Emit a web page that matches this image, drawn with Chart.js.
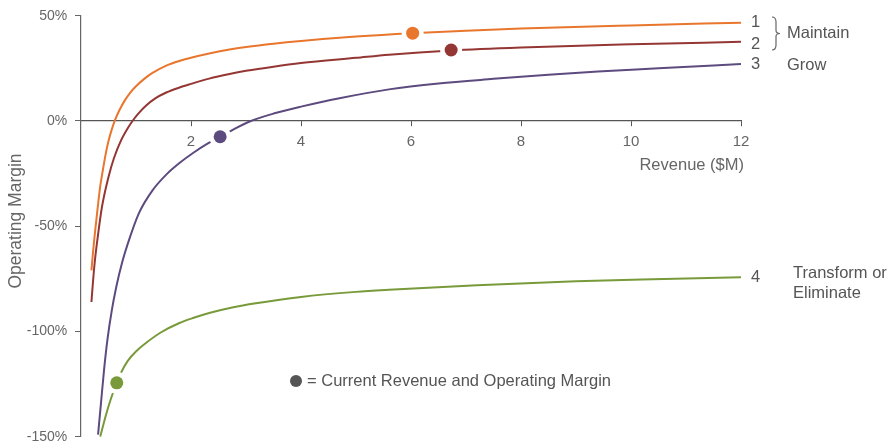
<!DOCTYPE html>
<html>
<head>
<meta charset="utf-8">
<script src="https://cdn.jsdelivr.net/npm/chart.js@4.4.1/dist/chart.umd.min.js"></script>
<style>
  html, body { margin: 0; padding: 0; background: #fff; }
  #wrap { width: 889px; height: 442px; }
</style>
</head>
<body>
<div id="wrap"><canvas id="graphique"></canvas></div>
<script>
// Courbes : revenu ($M) -> marge operationnelle (%)
const revenu1 = [0.19, 0.22, 0.25, 0.3, 0.35, 0.4, 0.45, 0.5, 0.56, 0.62, 0.7, 0.8, 0.9, 1.0, 1.15, 1.3, 1.55, 1.8, 2, 2.33, 2.7, 3, 3.5, 4, 5, 6, 7, 8, 10, 12];
const marge1  = [-71, -62, -54, -42, -31, -23, -15.5, -9.5, -4, 0.5, 5.2, 9.9, 13.6, 16.5, 20, 22.8, 26.3, 28.6, 30, 32, 33.9, 35.1, 36.7, 38, 40.1, 41.7, 42.9, 43.9, 45.4, 46.7];

const revenu2 = [0.19, 0.21, 0.25, 0.3, 0.38, 0.5, 0.6, 0.73, 0.83, 0.94, 1.05, 1.18, 1.35, 1.55, 1.78, 2, 2.33, 2.7, 3, 3.5, 4, 5, 5.6, 6.73, 8, 10, 12];
const marge2  = [-86, -79, -67, -56, -41, -26.6, -17.6, -9.1, -4.3, 0.1, 3.7, 7.2, 10.7, 13.5, 15.8, 17.6, 20.1, 22.3, 23.8, 25.8, 27.5, 30, 31.5, 33.5, 34.9, 36.4, 37.6];

const revenu3 = [0.31, 0.36, 0.42, 0.48, 0.56, 0.64, 0.75, 0.88, 1.05, 1.3, 1.55, 1.79, 2.05, 2.3, 2.53, 2.8, 3.09, 3.5, 4, 4.7, 5.6, 6.5, 7.5, 8.5, 9.4, 10.5, 12];
const marge3  = [-149, -135, -118, -104, -90, -79, -67, -56, -44, -33, -25.5, -20, -15, -10.8, -7.5, -3.6, 0, 3.5, 6.8, 10.8, 15, 17.8, 20, 22, 23.5, 25, 27.1];

const revenu4 = [0.35, 0.45, 0.55, 0.65, 0.73, 0.85, 1.0, 1.18, 1.45, 1.79, 2.05, 2.33, 2.75, 3.18, 4, 5, 5.6, 7.2, 9, 10.8, 12];
const marge4  = [-150, -140, -131.5, -124.4, -119.5, -114, -109.5, -105.5, -100.5, -96, -93.5, -91.2, -88.6, -86.6, -83.6, -81.2, -80.2, -78, -76.2, -75, -74.2];

// Position actuelle de chaque activite
const revenuActuel  = [6.03, 6.73, 2.53, 0.65];
const margeActuelle = [41.7, 33.7, -7.5, -124.4];

const numeros  = ['1', '2', '3', '4'];
const couleurs = ['#E8762D', '#943634', '#5D4A7E', '#789A3A'];

const POLICE = "'Liberation Sans', Arial, Helvetica, sans-serif";

function versPoints(xs, ys) {
    return xs.map((x, i) => ({ x: x, y: ys[i] }));
}

const series = [
    versPoints(revenu1, marge1),
    versPoints(revenu2, marge2),
    versPoints(revenu3, marge3),
    versPoints(revenu4, marge4)
];

const datasetsCourbes = series.map((pts, i) => ({
    label: 'Courbe ' + numeros[i],
    data: pts,
    showLine: true,
    borderColor: couleurs[i],
    borderWidth: 2,
    pointRadius: 0,
    cubicInterpolationMode: 'monotone',
    order: 3
}));

const pointsActuels = versPoints(revenuActuel, margeActuelle);

// halo blanc qui coupe la courbe autour du point
const datasetHalo = {
    label: 'halo',
    data: pointsActuels,
    pointRadius: 11,
    pointBackgroundColor: '#fff',
    pointBorderWidth: 0,
    order: 2
};

const datasetActuel = {
    label: 'actuel',
    data: pointsActuels,
    pointRadius: 6.5,
    pointBackgroundColor: couleurs,
    pointBorderWidth: 0,
    order: 1
};

// Textes hors zone : numeros, groupes, accolade, legende, titres des axes
const annotations = {
    id: 'annotations',
    afterDraw(chart) {
        const ctx = chart.ctx;
        const sx = chart.scales.x;
        const xFin = sx.getPixelForValue(12);

        ctx.save();
        ctx.fillStyle = '#555';
        ctx.textBaseline = 'middle';

        // numeros en bout de courbe
        ctx.font = '16.5px ' + POLICE;
        ctx.textAlign = 'left';
        const yLabels = [22, 44, 64, 277];
        numeros.forEach((n, i) => {
            ctx.fillText(n, xFin + 10, yLabels[i]);
        });

        // accolade 1-2
        ctx.strokeStyle = '#666';
        ctx.lineWidth = 1.2;
        ctx.beginPath();
        const bx = 772, bTop = 17, bBas = 50, bMil = (bTop + bBas) / 2;
        ctx.moveTo(bx, bTop);
        ctx.quadraticCurveTo(bx + 4, bTop, bx + 4, bTop + 5);
        ctx.lineTo(bx + 4, bMil - 3);
        ctx.quadraticCurveTo(bx + 4, bMil, bx + 8, bMil);
        ctx.quadraticCurveTo(bx + 4, bMil, bx + 4, bMil + 3);
        ctx.lineTo(bx + 4, bBas - 5);
        ctx.quadraticCurveTo(bx + 4, bBas, bx, bBas);
        ctx.stroke();

        ctx.fillText('Maintain', 787, 33);
        ctx.fillText('Grow', 787, 65);
        ctx.fillText('Transform or', 793, 273);
        ctx.fillText('Eliminate', 793, 293);

        // legende du point
        ctx.beginPath();
        ctx.arc(296, 381, 6, 0, Math.PI * 2);
        ctx.fill();
        ctx.fillText('= Current Revenue and Operating Margin', 307, 381);

        // titre axe x
        ctx.fillStyle = '#666';
        ctx.textAlign = 'right';
        ctx.fillText('Revenue ($M)', xFin + 3, 165);

        // titre axe y
        ctx.font = '17.5px ' + POLICE;
        ctx.translate(16, 221);
        ctx.rotate(-Math.PI / 2);
        ctx.textAlign = 'center';
        ctx.fillText('Operating Margin', 0, 0);
        ctx.restore();
    }
};

new Chart(document.getElementById('graphique'), {
    type: 'scatter',
    data: { datasets: [datasetActuel, datasetHalo].concat(datasetsCourbes) },
    options: {
        animation: false,
        responsive: true,
        maintainAspectRatio: false,
        // sans autoPadding : le halo des points ne reduit pas la zone du graphique
        layout: { autoPadding: false, padding: { top: 15.7, right: 148, bottom: 5.3, left: 0 } },
        plugins: {
            legend: { display: false },
            tooltip: { enabled: false }
        },
        scales: {
            x: {
                type: 'linear',
                position: { y: 0 },
                min: 0,
                max: 12,
                ticks: {
                    stepSize: 2,
                    color: '#666',
                    padding: 7,
                    font: { family: POLICE, size: 15 }
                },
                afterBuildTicks: s => { s.ticks = s.ticks.filter(t => t.value !== 0); },
                grid: { drawOnChartArea: false, tickLength: 5, color: '#555' },
                border: { color: '#555', width: 1.2 }
            },
            y: {
                min: -150,
                max: 50,
                ticks: {
                    stepSize: 50,
                    color: '#666',
                    // pas de marge : l'ecart au trait vient des espaces du libelle
                    padding: 0,
                    font: { family: POLICE, size: 14, lineHeight: 0.05 },
                    callback: v => v + '%  '
                },
                afterFit: s => { s.width = 81; },
                grid: { drawOnChartArea: false, tickLength: 6, color: '#666' },
                border: { color: '#666', width: 1.2 }
            }
        }
    },
    plugins: [annotations]
});
</script>
</body>
</html>
